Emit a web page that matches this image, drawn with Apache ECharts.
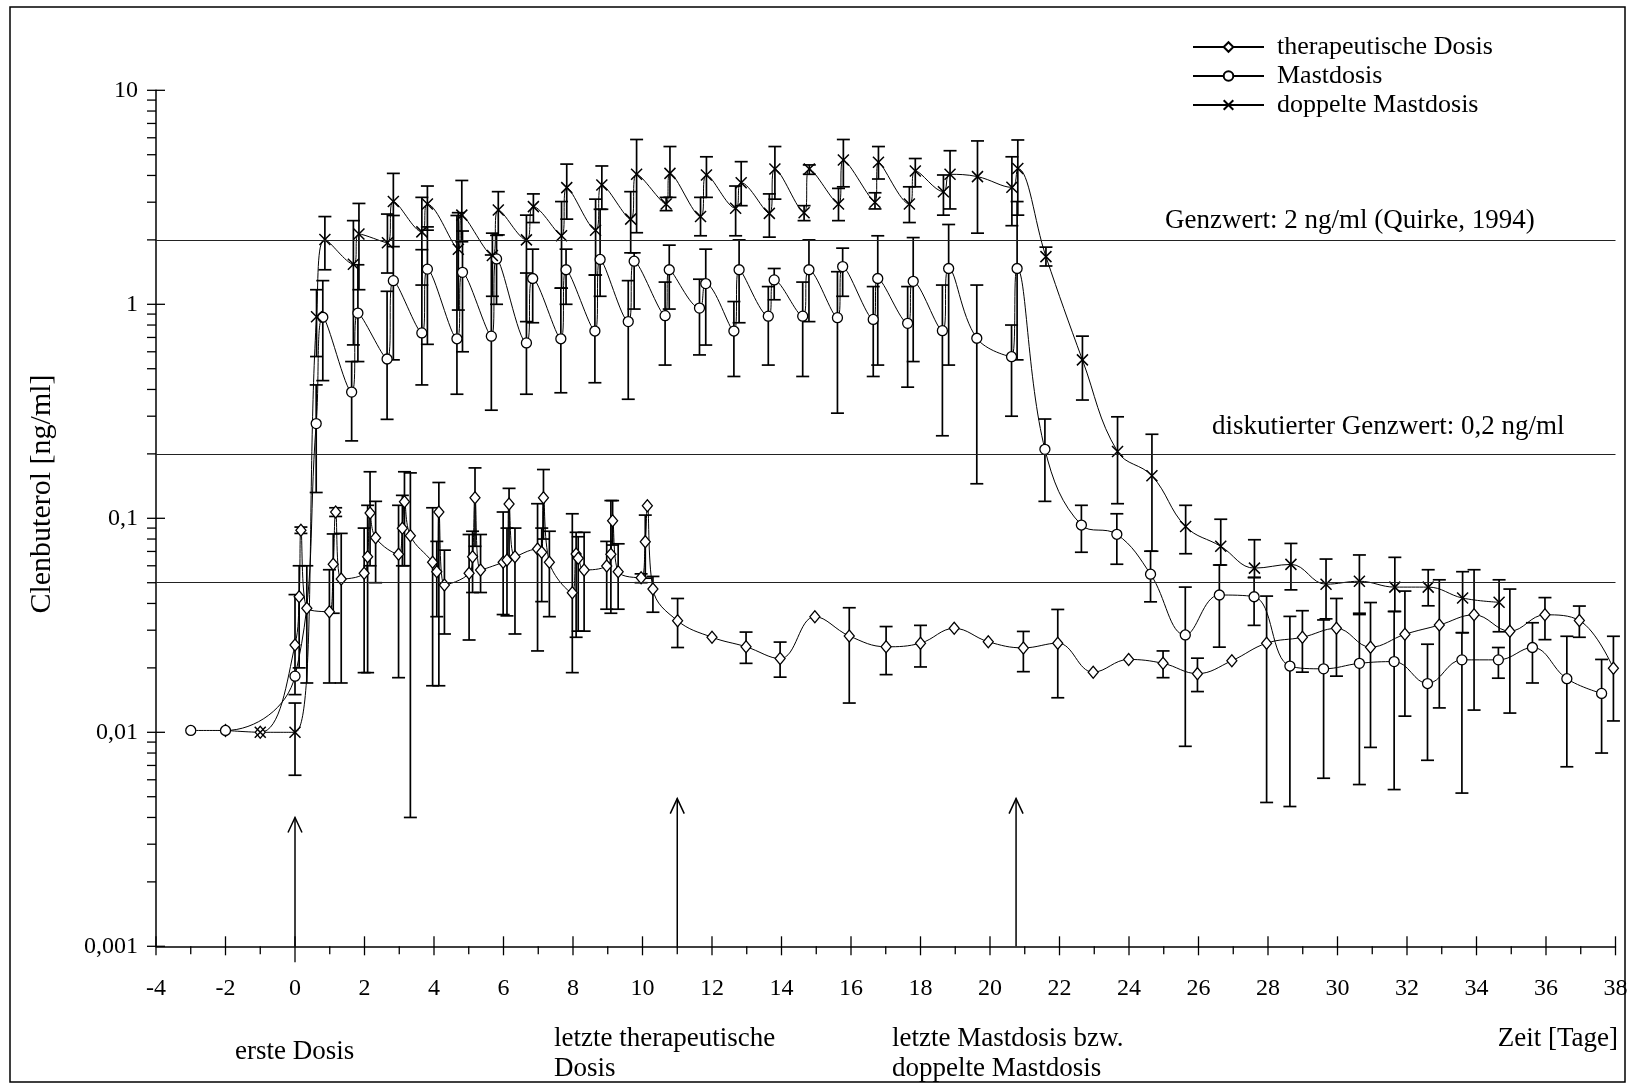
<!DOCTYPE html>
<html><head><meta charset="utf-8">
<script src="https://cdn.jsdelivr.net/npm/echarts@6/dist/echarts.min.js"></script>
<style>html,body{margin:0;padding:0;background:#fff}#c{width:1631px;height:1084px}</style>
</head><body><div id="c"></div>
<script>
// ---- therapeutische Dosis (diamonds)
const thX=[-2,-1,0,0.12,0.17,0.34, 0.99,1.1,1.17,1.33, 1.99,2.09,2.16,2.32, 2.98,3.09,3.15,3.32, 3.96,4.08,4.14,4.3, 5.01,5.11,5.18,5.34, 5.99,6.1,6.16,6.33, 6.98,7.1,7.15,7.32, 7.98,8.09,8.15,8.32, 8.97,9.09,9.14,9.3, 9.96,10.08,10.14,10.3,
 11.01,12,12.98,13.96,14.96,15.95,17.01,18,18.97,19.95,20.96,21.95,22.97,23.99,24.98,25.97,26.96,27.96,28.99,29.97,30.95,31.94,32.93,33.93,34.96,35.97,36.96,37.94];
const thY=[0.0102,0.0100,0.0256,0.043,0.088,0.038, 0.0366,0.061,0.107,0.052, 0.0553,0.0662,0.106,0.0811, 0.0679,0.0898,0.1196,0.0829, 0.0623,0.0563,0.107,0.0488, 0.0553,0.0662,0.1248,0.0574, 0.0623,0.0639,0.1167,0.0662, 0.0719,0.0694,0.1248,0.0623, 0.0449,0.0681,0.065,0.0574, 0.0598,0.0679,0.0975,0.0563, 0.0528,0.0778,0.1145,0.0467,
 0.0332,0.0278,0.0251,0.0221,0.0347,0.0282,0.0251,0.0261,0.0306,0.0265,0.0248,0.0261,0.0191,0.0219,0.0210,0.0188,0.0216,0.0261,0.0278,0.0306,0.0250,0.0287,0.0317,0.0354,0.0297,0.0354,0.0333,0.0199];
const thHi=[null,null,0.044,0.06,0.091,0.06, 0.0575,0.0845,0.112,0.085, 0.09,0.115,0.165,0.12, 0.115,0.128,0.165,0.163, 0.112,0.078,0.147,0.071, 0.084,0.087,0.172,0.084, 0.107,0.09,0.138,0.09, 0.117,0.09,0.169,0.087, 0.105,0.086,0.082,0.086, 0.078,0.121,0.121,0.076, 0.055,0.1035,null,0.0535,
 0.0422,null,0.0294,0.0264,null,0.0382,0.0312,0.0316,null,null,0.0296,0.0375,null,null,0.024,0.0222,null,0.0433,0.037,0.0422,0.0404,0.0457,0.0516,0.0575,0.0467,0.0426,0.0389,0.0281];
const thLo=[null,null,0.015,0.02,0.085,0.017, 0.017,0.036,0.102,0.017, 0.019,0.019,0.06,0.05, 0.018,0.06,0.06,0.004, 0.0165,0.0347,0.0165,0.0288, 0.027,0.045,0.074,0.045, 0.0355,0.035,0.065,0.0288, 0.024,0.0408,0.08,0.0347, 0.019,0.0278,0.0297,0.0297, 0.0376,0.036,0.075,0.0376, 0.05,0.0525,null,0.0364,
 0.0249,null,0.021,0.0181,null,0.0137,0.0186,0.0202,null,null,0.0192,0.0145,null,null,0.018,0.0155,null,0.0047,0.0191,0.0183,0.0085,0.0119,0.0130,0.0127,0.0123,0.0271,0.0278,0.0113];

// ---- Mastdosis (circles)
const mX=[-3,-2,0,0.61,0.8,1.63,1.81,2.65,2.83,3.65,3.81,4.66,4.82,5.65,5.8,6.66,6.84,7.65,7.8,8.63,8.78,9.59,9.76,10.65,10.77,11.64,11.82,12.63,12.78,13.62,13.79,14.61,14.79,15.61,15.76,16.64,16.77,17.63,17.79,18.63,18.81,19.62,20.62,20.78,21.58,22.63,23.65,24.62,25.62,26.6,27.6,28.63,29.6,30.63,31.63,32.59,33.58,34.63,35.61,36.6,37.6];
const mY=[0.0102,0.0102,0.0183,0.277,0.87,0.389,0.91,0.555,1.29,0.735,1.46,0.69,1.41,0.71,1.63,0.66,1.32,0.69,1.45,0.75,1.62,0.83,1.59,0.885,1.45,0.96,1.25,0.75,1.45,0.88,1.30,0.88,1.45,0.866,1.50,0.85,1.32,0.815,1.28,0.753,1.47,0.694,0.569,1.47,0.210,0.093,0.0842,0.0548,0.0285,0.0438,0.0430,0.0204,0.0198,0.0210,0.0214,0.0169,0.0218,0.0218,0.0249,0.0178,0.0152];
const mHi=[null,null,null,0.42,1.29,0.54,1.53,1.15,2.6,1.8,2.3,2.6,2.2,1.7,2.1,1.4,1.81,1.19,1.81,1.37,2.78,1.29,1.74,1.27,1.89,1.31,1.81,1.03,2.0,1.21,1.47,1.27,2.0,1.42,1.83,1.21,2.09,1.21,2.05,1.23,2.36,1.23,0.80,3.02,0.291,0.115,0.105,0.0702,0.0477,0.0605,0.0529,0.0348,0.0335,0.036,0.0367,0.0258,0.0292,0.0249,0.0325,0.0281,0.0219];
const mLo=[null,null,null,0.132,0.44,0.23,0.54,0.29,0.55,0.42,0.65,0.38,0.6,0.32,1.0,0.38,0.82,0.386,1.0,0.43,1.09,0.36,0.95,0.52,0.95,0.58,0.645,0.46,0.82,0.52,1.05,0.46,0.83,0.31,1.09,0.46,0.52,0.41,0.54,0.243,0.52,0.145,0.30,0.55,0.120,0.0694,0.061,0.0407,0.0086,0.025,0.0316,0.0045,0.0061,0.0057,0.0054,0.0074,0.0052,0.0179,0.017,0.0069,0.008];

// ---- doppelte Mastdosis (crosses)
const dX=[-1,0,0.62,0.86,1.68,1.84,2.66,2.83,3.65,3.81,4.70,4.80,5.68,5.85,6.66,6.86,7.67,7.82,8.65,8.83,9.66,9.83,10.68,10.79,11.67,11.84,12.68,12.84,13.65,13.81,14.65,14.80,15.64,15.78,16.69,16.79,17.68,17.85,18.66,18.85,19.64,20.63,20.80,21.61,22.66,23.67,24.66,25.63,26.64,27.61,28.66,29.67,30.63,31.65,32.61,33.60,34.65];
const dY=[0.01,0.01,0.875,2.01,1.54,2.13,1.94,3.02,2.18,2.94,1.81,2.61,1.69,2.76,2.0,2.86,2.09,3.51,2.22,3.61,2.50,4.05,2.94,4.09,2.57,4.02,2.81,3.70,2.66,4.29,2.68,4.29,2.94,4.72,3.0,4.61,2.94,4.20,3.36,4.05,3.95,3.52,4.31,1.67,0.55,0.205,0.158,0.0915,0.074,0.0585,0.0609,0.0492,0.0508,0.0477,0.0477,0.0424,0.0405];
const dHi=[null,0.0137,1.17,2.57,2.46,2.96,2.64,4.09,3.16,3.57,2.68,3.79,2.15,3.36,2.61,3.28,3.02,4.52,3.1,4.43,3.36,5.89,3.16,5.46,3.16,4.89,3.57,4.64,3.28,5.46,2.89,4.48,3.48,5.89,3.32,5.46,3.54,4.8,4.02,5.22,5.8,4.89,5.86,1.85,0.71,0.298,0.247,0.115,0.099,0.0794,0.0763,0.0645,0.0674,0.0657,0.0575,0.0563,0.0516];
const dLo=[null,0.0063,0.57,1.45,0.646,1.17,1.4,1.86,1.23,2.22,0.94,1.96,1.09,2.11,0.83,2.41,1.19,2.5,1.37,2.78,1.74,2.16,2.74,3.16,2.09,3.16,2.09,2.89,2.06,3.10,2.46,4.05,2.46,3.54,2.79,3.85,2.41,3.54,2.61,2.79,2.15,2.33,2.61,1.51,0.357,0.117,0.0702,0.0683,0.0605,0.0529,0.0463,0.0339,0.0355,0.0367,0.039,0.0292,0.0295];

// ---- reference lines, arrows, axis ticks
const limitValues=[2,0.2,0.05];
const arrowDays=[0,11,20.75];
const arrowTips=[0.0040,0.0049,0.0049];
const xMajorTicks=[-4,-2,0,2,4,6,8,10,12,14,16,18,20,22,24,26,28,30,32,34,36,38];
const xMinorTicks=[-3,-1,1,3,5,7,9,11,13,15,17,19,21,23,25,27,29,31,33,35,37];
const yMajorTicks=[0.001,0.01,0.1,1,10];
const yTickLabels={'0.001':'0,001','0.01':'0,01','0.1':'0,1','1':'1','10':'10'};
const yMinorMultipliers=[2,3,4,5,6,7,8,9];

const FONT='"Liberation Serif","Times New Roman",serif';
const seriesNames=['therapeutische Dosis','Mastdosis','doppelte Mastdosis'];

function pts(xs,ys){return xs.map((x,i)=>[x,ys[i]]);}
function errs(xs,lo,hi){const out=[];xs.forEach((x,i)=>{if(lo[i]!=null&&hi[i]!=null)out.push([x,lo[i],hi[i]]);});return out;}

function errRender(params,api){
  const x=api.value(0),lo=api.value(1),hi=api.value(2);
  const a=api.coord([x,hi]),b=api.coord([x,lo]);const w=6.5;
  const st={stroke:'#000',lineWidth:1.7};
  return {type:'group',children:[
    {type:'line',shape:{x1:a[0],y1:a[1],x2:b[0],y2:b[1]},style:st},
    {type:'line',shape:{x1:a[0]-w,y1:a[1],x2:a[0]+w,y2:a[1]},style:st},
    {type:'line',shape:{x1:b[0]-w,y1:b[1],x2:b[0]+w,y2:b[1]},style:st}
  ]};
}

const yMinorTicks=[];
yMajorTicks.slice(0,-1).forEach(d=>yMinorMultipliers.forEach(m=>yMinorTicks.push(+(m*d).toPrecision(3))));
const tickData=[];
yMajorTicks.forEach(v=>tickData.push([-4,v,0]));
yMinorTicks.forEach(v=>tickData.push([-4,v,1]));
xMajorTicks.forEach(v=>tickData.push([v,0.001,2]));
xMinorTicks.forEach(v=>tickData.push([v,0.001,3]));

function tickRender(params,api){
  const k=api.value(2);const p=api.coord([api.value(0),api.value(1)]);
  const st={stroke:'#000',lineWidth:1.3};
  let s;
  if(k===0)s={x1:p[0]-9,y1:p[1],x2:p[0]+9,y2:p[1]};
  else if(k===1)s={x1:p[0]-9,y1:p[1],x2:p[0],y2:p[1]};
  else if(k===2)s={x1:p[0],y1:p[1]-10,x2:p[0],y2:p[1]+(api.value(0)===0?16:9)};
  else s={x1:p[0],y1:p[1],x2:p[0],y2:p[1]+8};
  return {type:'line',shape:s,style:st};
}
function arrowRender(params,api){
  const x=api.value(0);const base=api.coord([x,0.001]);const tip=api.coord([x,api.value(1)]);
  const st={stroke:'#000',lineWidth:1.5,fill:null};
  return {type:'group',children:[
    {type:'line',shape:{x1:base[0],y1:base[1],x2:tip[0],y2:tip[1]},style:st},
    {type:'polyline',shape:{points:[[tip[0]-7,tip[1]+15],[tip[0],tip[1]],[tip[0]+7,tip[1]+15]]},style:st}
  ]};
}

const chart=echarts.init(document.getElementById('c'),null,{renderer:'canvas'});
const lineCommon={type:'line',smooth:0.4,z:4,lineStyle:{color:'#000',width:1},
  itemStyle:{color:'#fff',borderColor:'#000',borderWidth:1.3},emphasis:{disabled:true},animation:false};
const T=(x,y,text,size,extra,el)=>Object.assign({type:'text',x:x,y:y,silent:true,style:Object.assign({text:text,font:size+'px '+FONT,fill:'#000',textVerticalAlign:'middle'},extra||{})},el||{});
chart.setOption({
  animation:false,
  backgroundColor:'#fff',
  grid:{left:156,right:15.5,top:90.3,bottom:137.7,containLabel:false},
  legend:{data:seriesNames,orient:'vertical',left:1187,top:29,itemWidth:71,itemHeight:12,itemGap:3,
    textStyle:{fontFamily:FONT,fontSize:26,color:'#000',padding:[0,0,0,8]},selectedMode:false},
  xAxis:{type:'value',min:-4,max:38,interval:2,
    axisLine:{onZero:false,lineStyle:{color:'#000',width:1.5}},axisTick:{show:false},splitLine:{show:false},
    axisLabel:{fontFamily:FONT,fontSize:24,color:'#000',margin:30}},
  yAxis:{type:'log',logBase:10,min:0.001,max:10,
    axisLine:{show:true,onZero:false,lineStyle:{color:'#000',width:1.5}},axisTick:{show:false},splitLine:{show:false},minorTick:{show:false},
    axisLabel:{fontFamily:FONT,fontSize:24,color:'#000',margin:18,
      formatter:v=>{const s=String(+(+v).toPrecision(6));return yTickLabels[s]||s.replace('.',',');}}},
  graphic:[
    {type:'rect',shape:{x:10,y:7,width:1615,height:1075},style:{fill:null,stroke:'#000',lineWidth:1.5},silent:true},
    T(42,494,'Clenbuterol [ng/ml]',30,{textAlign:'center'},{rotation:Math.PI/2}),
    T(1165,221,'Genzwert: 2 ng/ml (Quirke, 1994)',27),
    T(1212,427,'diskutierter Genzwert: 0,2 ng/ml',27),
    T(235,1052,'erste Dosis',27),
    T(554,1039,'letzte therapeutische',27),
    T(554,1069,'Dosis',27),
    T(892,1039,'letzte Mastdosis bzw.',27),
    T(892,1069,'doppelte Mastdosis',27),
    T(1618,1039,'Zeit [Tage]',27,{textAlign:'right'})
  ],
  series:[
    Object.assign({},lineCommon,{name:seriesNames[0],data:pts(thX,thY),symbol:'diamond',symbolSize:[10,12]}),
    Object.assign({},lineCommon,{name:seriesNames[1],data:pts(mX,mY),symbol:'circle',symbolSize:10}),
    Object.assign({},lineCommon,{name:seriesNames[2],data:pts(dX,dY),symbol:'path://M0,0L10,10M10,0L0,10',symbolSize:11,itemStyle:{color:'#fff',borderColor:'#000',borderWidth:1.5}}),
    {type:'custom',name:'errTh',z:2,data:errs(thX,thLo,thHi),renderItem:errRender,encode:{x:0,y:[1,2]},silent:true,animation:false,
      markLine:{silent:true,symbol:['none','none'],label:{show:false},animation:false,
        lineStyle:{color:'#222',width:1.2,type:'solid'},data:limitValues.map(v=>({yAxis:v}))}},
    {type:'custom',name:'errM',z:2,data:errs(mX,mLo,mHi),renderItem:errRender,encode:{x:0,y:[1,2]},silent:true,animation:false},
    {type:'custom',name:'errD',z:2,data:errs(dX,dLo,dHi),renderItem:errRender,encode:{x:0,y:[1,2]},silent:true,animation:false},
    {type:'custom',name:'ticks',z:1,data:tickData,renderItem:tickRender,encode:{x:0,y:1},silent:true,animation:false,clip:false},
    {type:'custom',name:'arrows',z:1,data:arrowDays.map((d,i)=>[d,arrowTips[i]]),renderItem:arrowRender,encode:{x:0,y:1},silent:true,animation:false}
  ]
});
</script></body></html>
